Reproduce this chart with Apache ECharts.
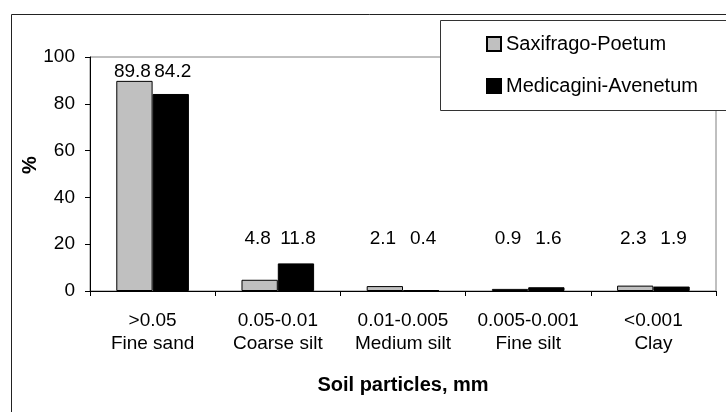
<!DOCTYPE html>
<html>
<head>
<meta charset="utf-8">
<script src="https://cdn.jsdelivr.net/npm/echarts@6/dist/echarts.min.js"></script>
<style>
html,body{margin:0;padding:0;background:#fff;}
#chart{width:726px;height:412px;}
</style>
</head>
<body>
<div id="chart"></div>
<script>
var sizeRanges = ['>0.05', '0.05-0.01', '0.01-0.005', '0.005-0.001', '<0.001'];
var sizeNames = ['Fine sand', 'Coarse silt', 'Medium silt', 'Fine silt', 'Clay'];
var seriesNames = ['Saxifrago-Poetum', 'Medicagini-Avenetum'];
var saxifrago = [89.8, 4.8, 2.1, 0.9, 2.3];
var medicagini = [84.2, 11.8, 0.4, 1.6, 1.9];
var yTicks = [0, 20, 40, 60, 80, 100];
var yAxisTitle = '%';
var xAxisTitle = 'Soil particles, mm';

var FONT = '"Liberation Sans", Arial, sans-serif';
var categories = sizeRanges.map(function (r, i) { return r + '\n' + sizeNames[i]; });
var values = [saxifrago, medicagini];
var colors = ['#C0C0C0', '#000000'];

var chart = echarts.init(document.getElementById('chart'), null, {renderer: 'canvas'});

function makeSeries(labelDist) {
  return values.map(function (vals, s) {
    return {
      name: seriesNames[s],
      type: 'bar',
      barGap: '0%',
      barCategoryGap: '42%',
      itemStyle: {color: colors[s], borderColor: '#000', borderWidth: 1},
      label: {show: true, position: 'top', color: '#000', fontFamily: FONT, fontSize: 19,
              offset: [s === 0 ? -2 : 2, 0],
              formatter: function (p) { return p.value.toFixed(1); }},
      data: vals.map(function (v, i) {
        var d = {value: v};
        if (labelDist) d.label = {distance: labelDist[s][i]};
        return d;
      })
    };
  });
}

var option = {
  animation: false,
  backgroundColor: '#fff',
  textStyle: {fontFamily: FONT},
  graphic: [
    {type: 'rect', z: 1, silent: true, shape: {x: 11.5, y: 14.5, width: 900, height: 600},
     style: {fill: 'none', stroke: '#222', lineWidth: 1}},
    {type: 'rect', z: 10, silent: true, shape: {x: 440.5, y: 20.5, width: 400, height: 90},
     style: {fill: '#fff', stroke: '#333', lineWidth: 1}},
    {type: 'text', z: 10, silent: true, x: 30, y: 165, rotation: Math.PI / 2,
     style: {text: yAxisTitle, font: 'bold 20px ' + FONT, fill: '#000', align: 'center', verticalAlign: 'middle'}}
  ],
  legend: {
    z: 20,
    orient: 'vertical',
    left: 481,
    top: 29,
    itemGap: 22,
    itemWidth: 14,
    itemHeight: 14,
    icon: 'rect',
    textStyle: {fontFamily: FONT, fontSize: 20, color: '#000'},
    data: seriesNames
  },
  grid: {left: 90, right: 10, top: 57, bottom: 121, show: true, borderColor: '#808080', borderWidth: 1, containLabel: false},
  xAxis: {
    type: 'category',
    data: categories,
    name: xAxisTitle,
    nameLocation: 'middle',
    nameGap: 84,
    nameTextStyle: {fontFamily: FONT, fontSize: 20, fontWeight: 'bold', color: '#000'},
    axisLine: {lineStyle: {color: '#000', width: 1}},
    axisTick: {show: true, length: 5, alignWithLabel: false, lineStyle: {color: '#000'}},
    axisLabel: {margin: 18, fontFamily: FONT, fontSize: 19, color: '#000', lineHeight: 23, interval: 0}
  },
  yAxis: {
    type: 'value',
    min: yTicks[0],
    max: yTicks[yTicks.length - 1],
    interval: yTicks[1] - yTicks[0],
    splitLine: {show: false},
    axisLine: {show: true, lineStyle: {color: '#000', width: 1}},
    axisTick: {show: true, length: 5, lineStyle: {color: '#000'}},
    axisLabel: {margin: 15, fontFamily: FONT, fontSize: 19, color: '#000'}
  },
  series: makeSeries(null)
};

chart.setOption(option);

// place each category's two labels on a common level above its bars
var dist = values.map(function (vals, s) {
  return vals.map(function (v, i) {
    var catMax = Math.max(saxifrago[i], medicagini[i]);
    var level = Math.max(catMax + 3.8, 22.2);
    var barTop = chart.convertToPixel({gridIndex: 0}, [i, v])[1];
    var lvl = chart.convertToPixel({gridIndex: 0}, [i, level])[1];
    return Math.max(0, barTop - lvl - 9);
  });
});
chart.setOption({series: makeSeries(dist)});
</script>
</body>
</html>
